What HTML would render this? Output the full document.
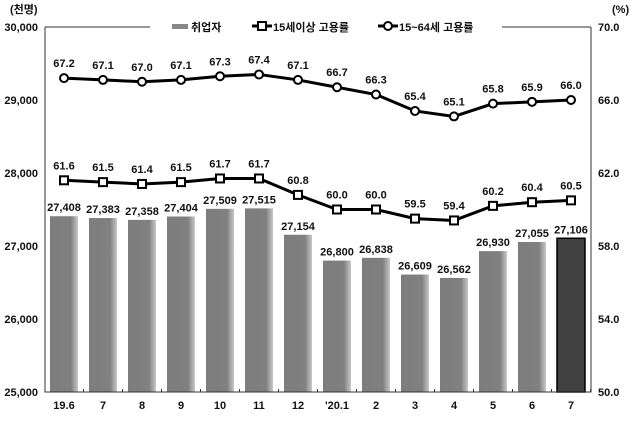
<!DOCTYPE html>
<html><head><meta charset="utf-8"><style>
body{margin:0;background:#fff}
text{font-family:"Liberation Sans","Noto Sans CJK KR",sans-serif;font-weight:bold;font-size:11px;fill:#111}
</style></head><body>
<svg width="643" height="416" xmlns="http://www.w3.org/2000/svg">
<defs>
<linearGradient id="g" x1="0" x2="1"><stop offset="0" stop-color="#7d7d7d"/><stop offset="0.75" stop-color="#808080"/><stop offset="1" stop-color="#c8c8c8"/></linearGradient>
</defs>
<g id="bars"></g>
<path d="M45 27V392H591V27M45 27H150M502 27H591" fill="none" stroke="#333" stroke-width="1"/>
<g id="ax"></g>
<rect x="172" y="24" width="16" height="5" fill="#888"/>
<text x="191" y="31">취업자</text>
<line x1="252" y1="26" x2="272" y2="26" stroke="#000" stroke-width="3"/><rect x="258" y="22" width="8" height="8" fill="#fff" stroke="#000" stroke-width="2"/>
<text x="273" y="31">15세이상 고용률</text>
<line x1="378" y1="26" x2="398" y2="26" stroke="#000" stroke-width="3"/><circle cx="388" cy="26" r="4" fill="#fff" stroke="#000" stroke-width="2"/>
<text x="399" y="31">15~64세 고용률</text>
<text x="10" y="13">(천명)</text><text x="612" y="13">(%)</text>
<g id="lines"></g>
<script>
const v=[27408,27383,27358,27404,27509,27515,27154,26800,26838,26609,26562,26930,27055,27106];
const a=[61.6,61.5,61.4,61.5,61.7,61.7,60.8,60.0,60.0,59.5,59.4,60.2,60.4,60.5];
const b=[67.2,67.1,67.0,67.1,67.3,67.4,67.1,66.7,66.3,65.4,65.1,65.8,65.9,66.0];
const xl=['19.6','7','8','9','10','11','12',"'20.1",'2','3','4','5','6','7'];
const ns='http://www.w3.org/2000/svg';
function el(p,t,at,tx){const e=document.createElementNS(ns,t);for(const k in at)e.setAttribute(k,at[k]);if(tx!=null)e.textContent=tx;document.getElementById(p).appendChild(e);return e;}
const cx=i=>64+39*i, yl=x=>392-(x-25000)*0.073, yr=x=>392-(x-50)*18.25;
v.forEach((d,i)=>{const y=yl(d);
 if(i==13)el('bars','rect',{x:cx(i)-14,y:y,width:28,height:392-y,fill:'#404040',stroke:'#000','stroke-width':1.5});
 else el('bars','rect',{x:cx(i)-14,y:y,width:28,height:392-y,fill:'url(#g)'});
 el('bars','text',{x:cx(i),y:y-5,'text-anchor':'middle'},d.toLocaleString('en-US'));
 el('ax','text',{x:cx(i),y:409,'text-anchor':'middle'},xl[i]);
 el('ax','line',{x1:cx(i)+19.5,y1:392,x2:cx(i)+19.5,y2:389,stroke:'#333'});
});
for(let k=0;k<=5;k++){el('ax','text',{x:38,y:392-73*k+4,'text-anchor':'end'},(25000+1000*k).toLocaleString('en-US'));
 el('ax','text',{x:598,y:392-73*k+4},(50+4*k).toFixed(1));}
[[a,'r'],[b,'c']].forEach(([s,m])=>{
 el('lines','polyline',{points:s.map((d,i)=>cx(i)+','+yr(d)).join(' '),fill:'none',stroke:'#000','stroke-width':3});
 s.forEach((d,i)=>{const y=yr(d);
  if(m=='r')el('lines','rect',{x:cx(i)-4,y:y-4,width:8,height:8,fill:'#fff',stroke:'#000','stroke-width':2});
  else el('lines','circle',{cx:cx(i),cy:y,r:4,fill:'#fff',stroke:'#000','stroke-width':2});
  el('lines','text',{x:cx(i),y:y-11,'text-anchor':'middle'},d.toFixed(1));});
});
</script>
</svg>
</body></html>
